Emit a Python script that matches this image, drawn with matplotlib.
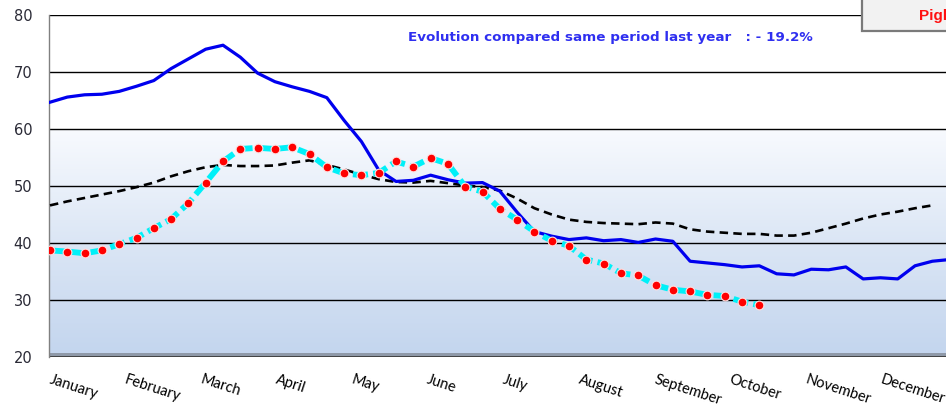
import numpy as np
import matplotlib
matplotlib.use("Agg")
import matplotlib.pyplot as plt
from matplotlib.colors import LinearSegmentedColormap
from matplotlib.patches import Rectangle

# ---- data (weekly values) ----
current_year = [64.7, 65.6, 66.0, 66.1, 66.6, 67.5, 68.5, 70.6, 72.3, 74.0,
                74.7, 72.6, 69.8, 68.3, 67.4, 66.6, 65.5, 61.5, 57.8, 52.8,
                50.8, 51.0, 51.9, 51.1, 50.5, 50.6, 49.1, 45.4, 42.0, 41.2,
                40.6, 40.9, 40.4, 40.6, 40.1, 40.7, 40.3, 36.8, 36.5, 36.2,
                35.8, 36.0, 34.6, 34.4, 35.4, 35.3, 35.8, 33.7, 33.9, 33.7,
                36.0, 36.8, 37.1]
average = [46.6, 47.3, 47.9, 48.5, 49.1, 49.8, 50.6, 51.7, 52.6, 53.3,
           53.7, 53.5, 53.5, 53.6, 54.1, 54.5, 53.7, 52.9, 52.0, 51.2,
           50.7, 50.6, 50.9, 50.5, 50.1, 49.8, 49.2, 47.8, 46.1, 45.0,
           44.1, 43.7, 43.5, 43.4, 43.3, 43.6, 43.4, 42.4, 42.0, 41.8,
           41.6, 41.6, 41.3, 41.3, 41.8, 42.6, 43.4, 44.3, 45.0, 45.5,
           46.1, 46.6]
this_year = [38.7, 38.5, 38.2, 38.7, 39.8, 40.9, 42.6, 44.2, 47.0, 50.6,
             54.3, 56.5, 56.7, 56.5, 56.8, 55.6, 53.3, 52.2, 51.9, 52.3,
             54.3, 53.4, 54.9, 53.9, 49.9, 49.0, 46.0, 44.1, 42.0, 40.4,
             39.5, 37.1, 36.4, 34.7, 34.3, 32.6, 31.8, 31.5, 30.9, 30.7,
             29.7, 29.1]
months = ["January", "February", "March", "April", "May", "June", "July",
          "August", "September", "October", "November", "December"]
yticks = [20, 30, 40, 50, 60, 70, 80]
title_text = "Evolution compared same period last year   : - 19.2%"
legend_text = "Pigl"

W, H = 946, 407
fig = plt.figure(figsize=(W / 100, H / 100), dpi=100)
fig.patch.set_facecolor("white")
ax = fig.add_axes([49 / W, 50 / H, (W - 49) / W, 342 / H])

x_left, x_right = -0.058, 51.79
ax.set_xlim(x_left, x_right)
ax.set_ylim(20, 80)

# background gradient below 60
cmap = LinearSegmentedColormap.from_list("bg", ["#c3d5ee", "#dbe6f5", "#f8fafe"])
grad = np.linspace(0, 1, 256).reshape(-1, 1)
ax.imshow(grad, cmap=cmap, origin="lower", aspect="auto",
          extent=(x_left, x_right, 20, 60), zorder=0)
ax.axhspan(20, 20.7, color="#8f99a8", zorder=0.5, lw=0)

for y in yticks[1:]:
    ax.axhline(y, color="black", lw=1.0, zorder=1)
ax.axhline(20, color="#3a3a3a", lw=2.0, zorder=1)

wk_cur = np.arange(len(current_year))
wk_avg = np.arange(len(average))
wk_this = np.arange(len(this_year))

ax.plot(wk_avg, average, color="black", lw=1.9, ls=(0, (3.2, 2.0)), zorder=3)
ax.plot(wk_cur, current_year, color="#0000ee", lw=2.3, zorder=4,
        solid_joinstyle="round")
ax.plot(wk_this, this_year, color="#00f0f8", lw=4.2, ls=(0, (2.6, 0.9)),
        zorder=5)
ax.plot(wk_this, this_year, ls="none", marker="o", ms=6.3, mfc="#ff0000",
        mec="#ffe0e0", mew=0.8, zorder=6)

for s in ["top", "right", "bottom"]:
    ax.spines[s].set_visible(False)
ax.spines["left"].set_color("#808080")
ax.spines["left"].set_linewidth(1.0)

ax.set_yticks(yticks)
ax.tick_params(axis="y", length=0, pad=12, labelsize=10.5, labelcolor="#2a2a36")

month_pos = 0.1 + np.arange(12) * 4.37
ax.set_xticks(month_pos)
ax.set_xticklabels(months, rotation=-18, ha="left", va="top",
                   rotation_mode="anchor", fontsize=10.5, family="Lato")
ax.tick_params(axis="x", length=0, pad=11)

fig.text(408 / W, 1 - 38 / H, title_text, color="#2f2ff0", fontsize=9.7,
         fontweight="bold", ha="left", va="center", family="DejaVu Sans")

# legend box (partially visible)
fig.patches.append(Rectangle((862 / W, 1 - 31 / H), 120 / W, 40 / H,
                             transform=fig.transFigure, facecolor="#f2f2f2",
                             edgecolor="#7a7a7a", lw=1.6, zorder=10))
fig.text(919 / W, 1 - 16 / H, legend_text, color="#ff1010", fontsize=11,
         fontweight="bold", ha="left", va="center", family="Liberation Sans",
         zorder=11)

fig.savefig("out.png", dpi=100)
